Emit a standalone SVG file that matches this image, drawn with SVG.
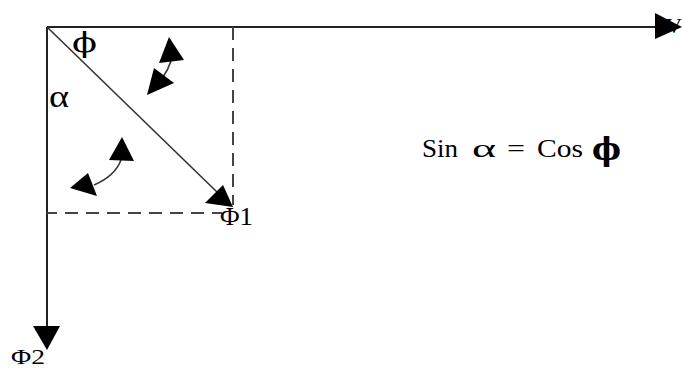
<svg xmlns="http://www.w3.org/2000/svg" width="683" height="369" viewBox="0 0 683 369">
  <style>
    .axis { stroke: #222; stroke-width: 2; fill: none; }
    .dash { stroke: #444; stroke-width: 2; fill: none; stroke-dasharray: 13 8; }
    .thin { stroke: #333; stroke-width: 1.6; fill: none; }
    .head { fill: #000; stroke: none; }
    .t { font-family: "Liberation Serif", "Times New Roman", serif; fill: #000; }
    .g { font-family: "DejaVu Serif", "Liberation Serif", serif; fill: #000; }
  </style>
  <rect width="683" height="369" fill="#fff"/>
  <g id="labels-hidden">
    <text class="t" x="666" y="33" font-size="22">V</text>
  </g>
  <g id="connectors">
    <line class="axis" x1="47" y1="27" x2="660" y2="27"/>
    <polygon class="head" points="655,13 682,27 655,39"/>
    <line class="axis" x1="47" y1="27" x2="47" y2="330"/>
    <polygon class="head" points="33,326 60,326 47,350"/>
    <line class="dash" x1="233" y1="27" x2="233" y2="205"/>
    <line class="dash" x1="47" y1="213" x2="222" y2="213" stroke-dashoffset="3"/>
    <line class="thin" x1="47" y1="27" x2="218" y2="193"/>
    <polygon class="head" points="233,207 223,185 205,203"/>
    <path class="thin" d="M171,61 Q168,70 163,77"/>
    <polygon class="head" points="169,37 184,60 159,63"/>
    <polygon class="head" points="147,95 154,68 174,83"/>
    <path class="thin" d="M121,160 Q115,176 94,185"/>
    <polygon class="head" points="122,137 134,161 109,160"/>
    <polygon class="head" points="70,188 88,173 97,196"/>
  </g>
  <g id="phi-angle"><text class="g" x="72" y="52" font-size="27" textLength="25" lengthAdjust="spacingAndGlyphs">ϕ</text></g>
  <g id="alpha-angle"><text class="t" x="49" y="107" font-size="32" textLength="20" lengthAdjust="spacingAndGlyphs">α</text></g>
  <g id="phi1"><text class="t" x="220" y="225" font-size="25" textLength="33" lengthAdjust="spacingAndGlyphs">Φ1</text></g>
  <g id="phi2"><text class="t" x="11" y="364" font-size="22" textLength="34" lengthAdjust="spacingAndGlyphs">Φ2</text></g>
  <g id="formula">
    <text class="t" x="422" y="157" font-size="25" textLength="36" lengthAdjust="spacingAndGlyphs">Sin</text>
    <text class="t" x="472" y="157" font-size="25" textLength="24" lengthAdjust="spacingAndGlyphs">α</text>
    <text class="t" x="507" y="157" font-size="25" textLength="18" lengthAdjust="spacingAndGlyphs">=</text>
    <text class="t" x="537" y="157" font-size="25" textLength="46" lengthAdjust="spacingAndGlyphs">Cos</text>
    <text class="g" x="592" y="160" font-size="32" font-weight="bold" textLength="29" lengthAdjust="spacingAndGlyphs">ϕ</text>
  </g>
</svg>
